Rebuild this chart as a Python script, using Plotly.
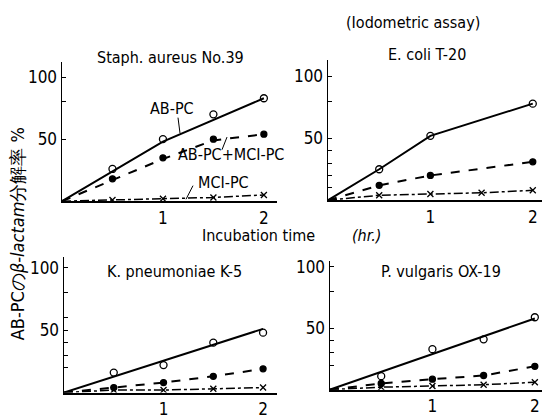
import plotly.graph_objects as go

W, H = 545, 419
FONT = "DejaVu Sans Condensed, Liberation Sans Narrow, Arial Narrow, Liberation Sans, sans-serif"

# ---------------- data ----------------
hours = [0.5, 1.0, 1.5, 2.0]
hours_ec = [0.5, 1.0, 2.0]

# Staph. aureus No.39
sa_ab = [26, 50, 70, 83]
sa_ab_line_x = [0, 1, 2]
sa_ab_line_y = [0, 48, 83]
sa_mix = [18, 35, 50, 54]
sa_mix_line_x = [0, 0.5, 1, 1.5, 2]
sa_mix_line_y = [0, 17, 34, 49, 54]
sa_mci = [1, 2, 3, 5]

# E. coli T-20
ec_ab = [25, 52, 78]
ec_mix = [12, 20, 31]
ec_mci = [4, 5, 6, 8]

# K. pneumoniae K-5
kp_ab = [16, 22, 40, 48]
kp_ab_line_x = [0, 2]
kp_ab_line_y = [0, 51]
kp_mix = [4, 8, 13, 19]
kp_mci = [2, 2, 3, 4]

# P. vulgaris OX-19
pv_ab = [11, 33, 41, 59]
pv_ab_line_x = [0, 2]
pv_ab_line_y = [0, 58]
pv_mix = [5, 8.5, 11.5, 19]
pv_mci = [2, 3, 4, 6]

titles = ["Staph. aureus No.39", "E. coli T-20", "K. pneumoniae K-5", "P. vulgaris OX-19"]
x_tick_vals = [1, 2]
x_tick_text = ["1", "2"]


def px(x):
    return x / W


def py(y):
    return 1 - y / H


fig = go.Figure()

# panel geometry (pixel) : x0, x1, xmax, ybottom, ytop, ymax, y minor ticks
panels = [
    dict(x0=62, x1=277, xmax=2.13, yb=203, yt=60, ymax=112, yt_vals=[50, 80, 100]),
    dict(x0=328, x1=542, xmax=2.09, yb=202, yt=58, ymax=113, yt_vals=[10, 20, 30, 40, 50, 80, 100]),
    dict(x0=64, x1=277, xmax=2.14, yb=400, yt=260, ymax=109, yt_vals=[20, 30, 40, 50, 60, 80, 100]),
    dict(x0=330, x1=542, xmax=2.07, yb=397, yt=265, ymax=104.5, yt_vals=[20, 30, 40, 50, 80, 100]),
]

layout_axes = {}
for i, p in enumerate(panels):
    n = "" if i == 0 else str(i + 1)
    layout_axes["xaxis" + n] = dict(
        domain=[px(p["x0"]), px(p["x1"])], range=[0, p["xmax"]], anchor="y" + n,
        showgrid=False, zeroline=False, showline=True, linecolor="black", linewidth=2,
        tickmode="array", tickvals=x_tick_vals, ticktext=x_tick_text, ticks="",
        tickfont=dict(family=FONT, size=17, color="black"),
    )
    layout_axes["yaxis" + n] = dict(
        domain=[py(p["yb"]), py(p["yt"])], range=[0, p["ymax"]], anchor="x" + n,
        showgrid=False, zeroline=False, showline=True, linecolor="black", linewidth=1.5,
        tickmode="array", tickvals=p["yt_vals"],
        ticktext=["100" if v == 100 else ("50" if v == 50 else "") for v in p["yt_vals"]],
        ticks="inside", ticklen=4, tickwidth=1, tickcolor="black",
        tickfont=dict(family=FONT, size=17, color="black"),
    )


def add_series(i, lx, ly, mx, my, dash, width, symbol, msize, mfill):
    n = "" if i == 0 else str(i + 1)
    fig.add_trace(go.Scatter(x=lx, y=ly, mode="lines", xaxis="x" + n, yaxis="y" + n,
                             line=dict(color="black", width=width, dash=dash),
                             showlegend=False, hoverinfo="skip"))
    fig.add_trace(go.Scatter(x=mx, y=my, mode="markers", xaxis="x" + n, yaxis="y" + n,
                             marker=dict(symbol=symbol, size=msize, color=mfill,
                                         line=dict(color="black", width=1.3)),
                             showlegend=False))


AB = dict(dash="solid", width=2, symbol="circle-open", msize=7, mfill="black")
MIX = dict(dash="dash", width=2, symbol="circle", msize=6, mfill="black")
MCI = dict(dash="dashdot", width=1.5, symbol="x-thin-open", msize=6, mfill="black")

# Staph. aureus
add_series(0, sa_ab_line_x, sa_ab_line_y, hours, sa_ab, **AB)
add_series(0, sa_mix_line_x, sa_mix_line_y, hours, sa_mix, **MIX)
add_series(0, [0] + hours, [0] + sa_mci, hours, sa_mci, **MCI)
# E. coli
add_series(1, [0] + hours_ec, [0] + ec_ab, hours_ec, ec_ab, **AB)
add_series(1, [0] + hours_ec, [0] + ec_mix, hours_ec, ec_mix, **MIX)
add_series(1, [0] + hours, [0] + ec_mci, hours, ec_mci, **MCI)
# K. pneumoniae
add_series(2, kp_ab_line_x, kp_ab_line_y, hours, kp_ab, **AB)
add_series(2, [0] + hours, [0] + kp_mix, hours, kp_mix, **MIX)
add_series(2, [0] + hours, [0] + kp_mci, hours, kp_mci, **MCI)
# P. vulgaris
add_series(3, pv_ab_line_x, pv_ab_line_y, hours, pv_ab, **AB)
add_series(3, [0] + hours, [0] + pv_mix, hours, pv_mix, **MIX)
add_series(3, [0] + hours, [0] + pv_mci, hours, pv_mci, **MCI)

annotations = []
shapes = []


def text(x, y, s, size=16, angle=0):
    annotations.append(dict(x=px(x), y=py(y), xref="paper", yref="paper", text=s,
                            showarrow=False, textangle=angle, xanchor="center", yanchor="middle",
                            font=dict(family=FONT, size=size, color="black")))


def pointer(x0, y0, x1, y1):
    shapes.append(dict(type="line", xref="paper", yref="paper",
                       x0=px(x0), y0=py(y0), x1=px(x1), y1=py(y1),
                       line=dict(color="black", width=1)))


text(413, 19, "(Iodometric assay)", 16)
text(170, 55, titles[0], 16)
text(427, 52, titles[1], 16)
text(174, 275, titles[2], 16)
text(441, 275, titles[3], 16)
text(258, 238, "Incubation time", 16)
text(366, 238, "<i>(hr.)</i>", 16)
text(172, 108, "AB-PC", 16)
text(231, 155, "AB-PC+MCI-PC", 16)
text(223, 184, "MCI-PC", 16)
pointer(178, 117, 180, 133)
pointer(222, 150, 227, 137)
pointer(193, 187, 186, 201)
text(17, 237, "AB-PCの<i>β-lactam</i>分解率 %", 18, angle=-90)

fig.update_layout(
    width=W, height=H, margin=dict(l=0, r=0, t=0, b=0),
    paper_bgcolor="white", plot_bgcolor="white",
    annotations=annotations, shapes=shapes, **layout_axes,
)

fig.write_html("out.html", config={"displayModeBar": False, "staticPlot": True},
               post_script="document.body.style.margin='0';document.body.style.overflow='hidden';"
                           "window.dispatchEvent(new Event('resize'));")
